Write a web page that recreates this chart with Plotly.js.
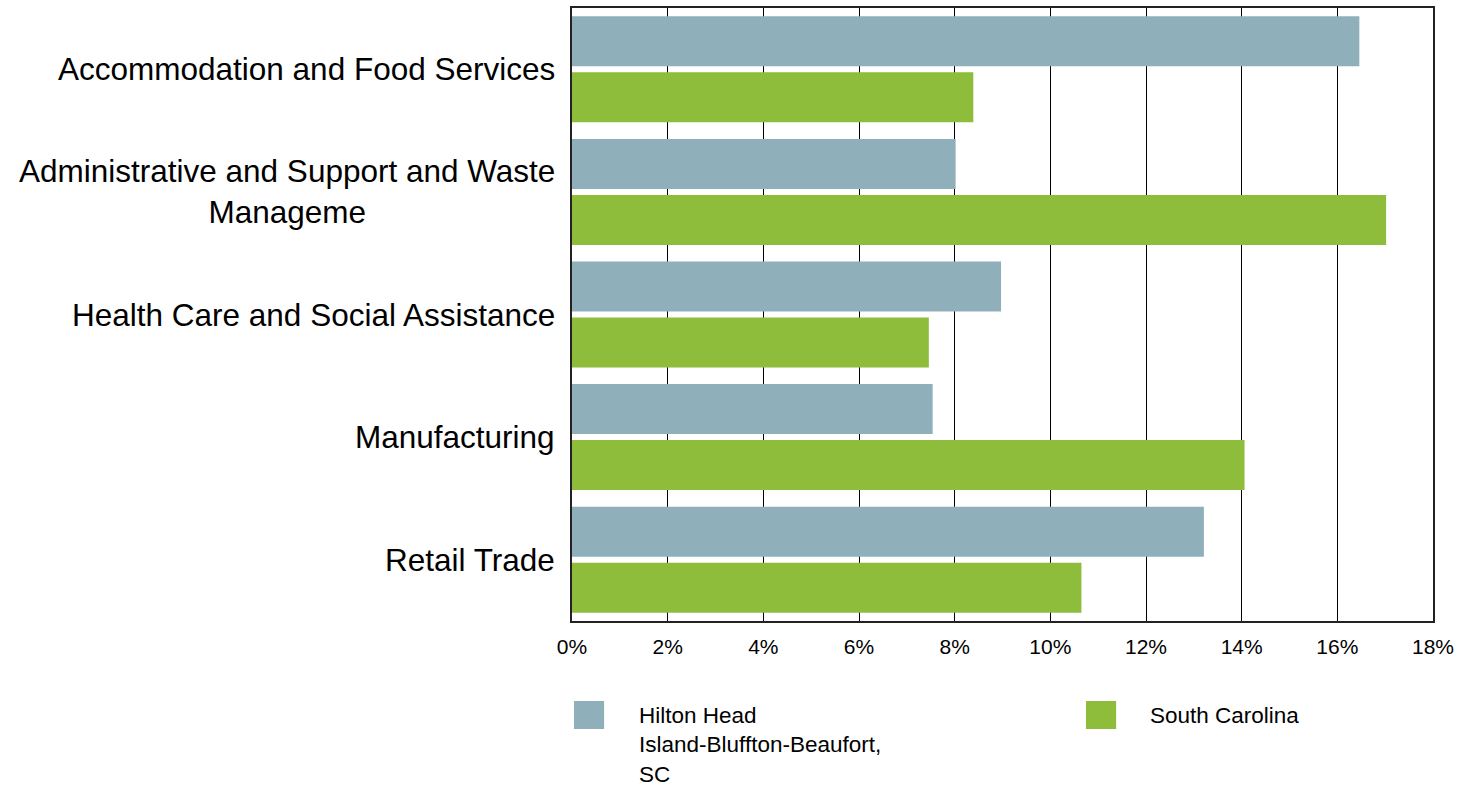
<!DOCTYPE html>
<html>
<head>
<meta charset="utf-8">
<script src="https://cdn.plot.ly/plotly-3.0.1.min.js"></script>
<style>
  html, body { margin: 0; padding: 0; background: #ffffff; }
  #chart { width: 1471px; height: 788px; }
</style>
</head>
<body>
<div id="chart"></div>
<script>
const categories = [
  "Accommodation and Food Services",
  "Administrative and Support and Waste Manageme",
  "Health Care and Social Assistance",
  "Manufacturing",
  "Retail Trade"
];
const categoryLabels = [
  "Accommodation and Food Services",
  "Administrative and Support and Waste<br>Manageme",
  "Health Care and Social Assistance",
  "Manufacturing",
  "Retail Trade"
];
const seriesNames = ["Hilton Head<br>Island-Bluffton-Beaufort,<br>SC", "South Carolina"];
const hiltonHead = [16.46, 8.02, 8.97, 7.54, 13.21];
const southCarolina = [8.39, 17.02, 7.46, 14.06, 10.65];
const seriesColors = ["#8FAFBA", "#8EBD3B"];
const xTickVals = [0, 2, 4, 6, 8, 10, 12, 14, 16, 18];
const xTickLabels = ["0%", "2%", "4%", "6%", "8%", "10%", "12%", "14%", "16%", "18%"];

const fontFam = "Liberation Sans, Arial, Helvetica, sans-serif";

const traces = [hiltonHead, southCarolina].map((vals, i) => ({
  type: "bar",
  orientation: "h",
  y: categories,
  x: vals,
  name: seriesNames[i],
  marker: { color: seriesColors[i], line: { width: 0 } },
  showlegend: false,
  hoverinfo: "x+y"
}));

const annotations = categories.map((c, i) => ({
  xref: "paper", yref: "y",
  x: -0.018, y: c,
  xanchor: "right", yanchor: "middle",
  align: "center",
  text: categoryLabels[i],
  showarrow: false,
  font: { family: fontFam, size: 31.5, color: "#000000" }
}));

// manual legend
const legendX = [0.0023, 0.597];
const legendTextX = [0.0755, 0.669];
const shapes = [];
seriesNames.forEach((n, i) => {
  shapes.push({
    type: "rect", xref: "paper", yref: "paper",
    x0: legendX[i], x1: legendX[i] + 0.035,
    y0: -0.1305, y1: -0.1762,
    fillcolor: seriesColors[i], line: { width: 0 }
  });
  annotations.push({
    xref: "paper", yref: "paper",
    x: legendTextX[i], y: -0.131,
    xanchor: "left", yanchor: "top",
    align: "left",
    text: n,
    showarrow: false,
    font: { family: fontFam, size: 22.5, color: "#000000" }
  });
});

const layout = {
  width: 1471,
  height: 788,
  margin: { l: 572, r: 38, t: 8, b: 167 },
  paper_bgcolor: "#ffffff",
  plot_bgcolor: "#ffffff",
  barmode: "group",
  bargap: 0.0865,
  bargroupgap: 0.107,
  font: { family: fontFam, color: "#000000" },
  xaxis: {
    range: [0, 18],
    tickmode: "array",
    tickvals: xTickVals,
    ticktext: xTickLabels,
    showgrid: true,
    gridcolor: "#000000",
    gridwidth: 1,
    zeroline: false,
    showline: true,
    linecolor: "#222222",
    linewidth: 2,
    mirror: true,
    ticks: "",
    ticklabelstandoff: 6,
    tickfont: { family: fontFam, size: 21, color: "#000000" },
    fixedrange: true
  },
  yaxis: {
    autorange: "reversed",
    showticklabels: false,
    showgrid: false,
    zeroline: false,
    showline: true,
    linecolor: "#222222",
    linewidth: 2,
    mirror: true,
    ticks: "",
    fixedrange: true
  },
  shapes: shapes,
  annotations: annotations
};

Plotly.newPlot("chart", traces, layout, { displayModeBar: false, staticPlot: true });
</script>
</body>
</html>
